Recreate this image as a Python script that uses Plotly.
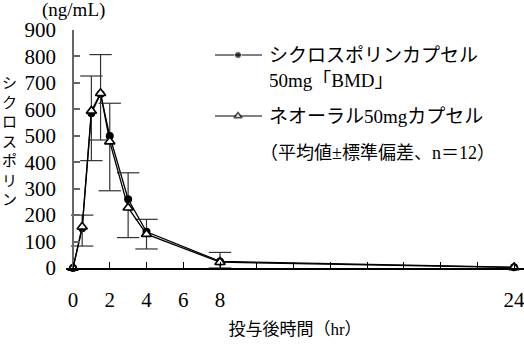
import plotly.graph_objects as go

# ---- data ----
times = [0, 0.5, 1, 1.5, 2, 3, 4, 8, 24]
bmd_mean = [0, 150, 585, 658, 499, 260, 137, 25, 3]
bmd_sd = [0, 50, 141, 149, 124, 100, 47, 34, 0]
neo_mean = [0, 156, 594, 661, 478, 228, 128, 22, 2]
neo_sd = [0, 73, 188, 177, 186, 113, 56, 22, 0]
x_tickvals = [0, 2, 4, 6, 8, 10, 12, 14, 16, 18, 20, 22, 24]
x_ticktext = ["0", "2", "4", "6", "8", "", "", "", "", "", "", "", "24"]
y_tickvals = [0, 100, 200, 300, 400, 500, 600, 700, 800, 900]

name_bmd = "シクロスポリンカプセル"
name_bmd2 = "50mg「BMD」"
name_neo = "ネオーラル50mgカプセル"
note = "（平均値±標準偏差、n＝12）"
x_title = "投与後時間（hr）"
y_title = "シクロスポリン"
y_unit = "(ng/mL)"

FONT = "Liberation Serif, Noto Sans CJK JP"
ERR_COL = "#333333"

fig = go.Figure()

# BMD: mean line with upward SD stems (no caps) + cap markers
fig.add_trace(go.Scatter(
    x=times, y=bmd_mean, mode="lines+markers", cliponaxis=False,
    line=dict(color="black", width=1.3),
    marker=dict(symbol="circle", size=8, color="black"),
    error_y=dict(type="data", symmetric=False, array=bmd_sd,
                 arrayminus=[0] * len(bmd_sd), width=0,
                 color=ERR_COL, thickness=1.2),
    showlegend=False))
fig.add_trace(go.Scatter(
    x=[t for t, s in zip(times, bmd_sd) if s > 0],
    y=[m + s for m, s in zip(bmd_mean, bmd_sd) if s > 0],
    mode="markers", cliponaxis=False,
    marker=dict(symbol="line-ew", size=16, line=dict(color=ERR_COL, width=1.2)),
    showlegend=False))

# Neoral: mean line with downward SD stems + cap markers
fig.add_trace(go.Scatter(
    x=[t for t, s in zip(times, neo_sd) if s > 0],
    y=[m - s for m, s in zip(neo_mean, neo_sd) if s > 0],
    mode="markers", cliponaxis=False,
    marker=dict(symbol="line-ew", size=16, line=dict(color=ERR_COL, width=1.2)),
    showlegend=False))
fig.add_trace(go.Scatter(
    x=times, y=neo_mean, mode="lines+markers", cliponaxis=False,
    line=dict(color="black", width=1.3),
    marker=dict(symbol="triangle-up", size=9, color="white",
                line=dict(color="black", width=1.6)),
    error_y=dict(type="data", symmetric=False, array=[0] * len(neo_sd),
                 arrayminus=neo_sd, width=0,
                 color=ERR_COL, thickness=1.2),
    showlegend=False))

# ---- manual legend on a hidden pixel-like overlay axis ----
fig.add_trace(go.Scatter(
    x=[215, 238, 262], y=[55, 55, 55], xaxis="x2", yaxis="y2",
    mode="lines+markers", line=dict(color="black", width=1),
    marker=dict(symbol="circle", size=[0, 7, 0], color="black"),
    showlegend=False, hoverinfo="skip"))
fig.add_trace(go.Scatter(
    x=[215, 238, 262], y=[116, 116, 116], xaxis="x2", yaxis="y2",
    mode="lines+markers", line=dict(color="black", width=1),
    marker=dict(symbol="triangle-up", size=[0, 7, 0], color="white",
                line=dict(color="black", width=1.5)),
    showlegend=False, hoverinfo="skip"))

ann_font = dict(family=FONT, size=19, color="black")
annotations = [
    dict(x=267, y=55, xref="x2", yref="y2", text=name_bmd, showarrow=False,
         xanchor="left", yanchor="middle", font=ann_font),
    dict(x=267, y=80, xref="x2", yref="y2", text=name_bmd2, showarrow=False,
         xanchor="left", yanchor="middle", font=ann_font),
    dict(x=267, y=116, xref="x2", yref="y2", text=name_neo, showarrow=False,
         xanchor="left", yanchor="middle", font=ann_font),
    dict(x=258, y=153, xref="x2", yref="y2", text=note, showarrow=False,
         xanchor="left", yanchor="middle", font=dict(family=FONT, size=18, color="black")),
    dict(x=(73 - 66) / 458.0, y=(268 - 10) / 238.0, xref="paper", yref="paper",
         text=y_unit, showarrow=False,
         xanchor="center", yanchor="middle", font=dict(family=FONT, size=19, color="black")),
    dict(x=(9 - 66) / 458.0, y=(268 - 141) / 238.0, xref="paper", yref="paper",
         text="<br>".join(list(y_title)),
         showarrow=False, xanchor="center", yanchor="middle",
         font=dict(family=FONT, size=15, color="black")),
]

px_per_hr = 441 / 24.0
fig.update_layout(
    width=524, height=345,
    margin=dict(l=66, r=0, t=30, b=77, pad=0),
    paper_bgcolor="white", plot_bgcolor="white",
    showlegend=False,
    font=dict(family=FONT, color="black"),
    xaxis=dict(
        range=[-7 / px_per_hr, 24 + 10 / px_per_hr],
        tickvals=x_tickvals, ticktext=x_ticktext,
        ticks="inside", ticklen=6, tickcolor="black", tickwidth=1,
        showline=True, linecolor="black", linewidth=1.5,
        showgrid=False, zeroline=False,
        tickfont=dict(family=FONT, size=21, color="black"),
        ticklabelstandoff=12, ticklabeloverflow="allow",
        title=dict(text=x_title, font=dict(family=FONT, size=17, color="black"), standoff=12),
    ),
    yaxis=dict(
        range=[0, 900], tickvals=y_tickvals,
        ticks="inside", ticklen=6, tickcolor="#666666", tickwidth=1.5,
        showline=True, linecolor="#666666", linewidth=1.5,
        anchor="free", position=7 / 458.0,
        showgrid=False, zeroline=False,
        tickfont=dict(family=FONT, size=21, color="black"),
        ticklabelstandoff=12, ticklabeloverflow="allow",
    ),
    xaxis2=dict(range=[66, 524], overlaying="x", visible=False, fixedrange=True),
    yaxis2=dict(range=[268, 30], overlaying="y", visible=False, fixedrange=True),
    annotations=annotations,
)

fig.write_html("out.html")
